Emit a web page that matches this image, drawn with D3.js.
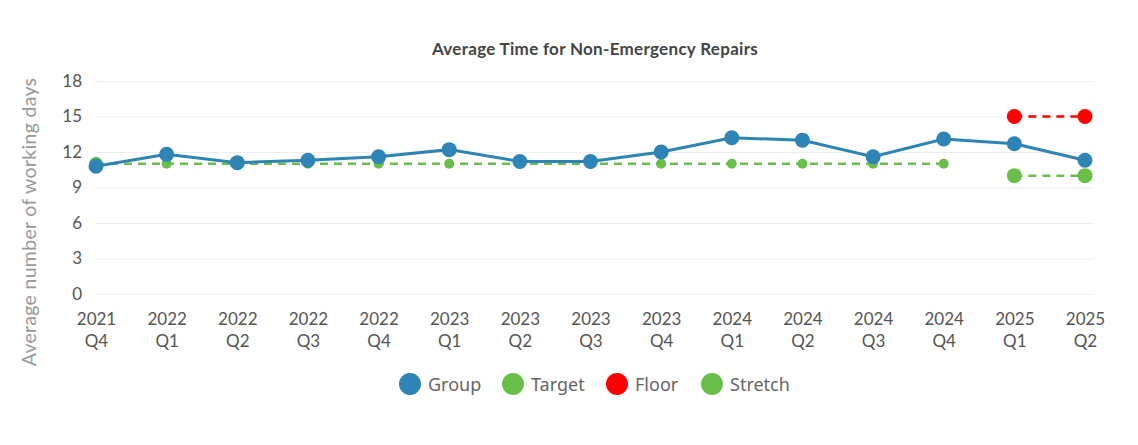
<!DOCTYPE html>
<html>
<head>
<meta charset="utf-8">
<script src="https://cdn.jsdelivr.net/npm/d3@7"></script>
<style>
  body { margin: 0; background: #fff; }
  svg { display: block; }
</style>
</head>
<body>
<svg id="chart" width="1138" height="445"></svg>
<script>
"use strict";

const W = 1138, H = 445;
const MARGIN = { top: 81, right: 44, bottom: 151, left: 96 };

const quarters = ["2021 Q4", "2022 Q1", "2022 Q2", "2022 Q3", "2022 Q4", "2023 Q1", "2023 Q2",
  "2023 Q3", "2023 Q4", "2024 Q1", "2024 Q2", "2024 Q3", "2024 Q4", "2025 Q1", "2025 Q2"];
const groupValues = [10.8, 11.8, 11.1, 11.3, 11.6, 12.2, 11.2, 11.2, 12.0, 13.2, 13.0, 11.6, 13.1, 12.7, 11.3];
const targetValues = [11, 11, 11, 11, 11, 11, 11, 11, 11, 11, 11, 11, 11, null, null];
const floorValues = [null, null, null, null, null, null, null, null, null, null, null, null, null, 15, 15];
const stretchValues = [null, null, null, null, null, null, null, null, null, null, null, null, null, 10, 10];
const yTicks = [0, 3, 6, 9, 12, 15, 18];

const COLORS = { group: "#2e84b4", target: "#6abf4b", floor: "#ff0000", stretch: "#6abf4b" };

const svg = d3.select("#chart");
const plotW = W - MARGIN.left - MARGIN.right;
const plotH = H - MARGIN.top - MARGIN.bottom;

const x = d3.scalePoint().domain(quarters).range([MARGIN.left, MARGIN.left + 989]);
const y = d3.scaleLinear().domain([0, 18]).range([MARGIN.top + plotH, MARGIN.top]);

// title
svg.append("text")
  .attr("x", MARGIN.left + plotW / 2).attr("y", 55)
  .attr("text-anchor", "middle")
  .attr("font-family", "Lato, sans-serif").attr("font-weight", "bold")
  .attr("font-size", 17).attr("letter-spacing", 0.3).attr("fill", "#444")
  .text("Average Time for Non-Emergency Repairs");

// grid + y ticks
const yAxis = d3.axisLeft(y).tickValues(yTicks).tickSize(-plotW).tickPadding(14);
svg.append("g")
  .attr("transform", `translate(${MARGIN.left},0)`)
  .call(yAxis)
  .call(g => g.select(".domain").remove())
  .call(g => g.selectAll(".tick line").attr("stroke", "#eeeeee"))
  .call(g => g.selectAll(".tick text")
    .attr("font-family", "Lato, sans-serif").attr("font-size", 17).attr("fill", "#555"));

// x axis labels, two lines
const xAxis = d3.axisBottom(x).tickSize(0).tickFormat("");
const xg = svg.append("g")
  .attr("transform", `translate(0,${MARGIN.top + plotH})`)
  .call(xAxis)
  .call(g => g.select(".domain").remove());
xg.selectAll(".tick").append("text")
  .attr("text-anchor", "middle")
  .attr("font-family", "Lato, sans-serif").attr("font-size", 17).attr("fill", "#555")
  .each(function (d) {
    const parts = d.split(" ");
    const t = d3.select(this);
    t.append("tspan").attr("x", 0).attr("y", 31).text(parts[0]);
    t.append("tspan").attr("x", 0).attr("y", 53).text(parts[1]);
  });

// y axis title
svg.append("text")
  .attr("transform", `translate(36,222) rotate(-90)`)
  .attr("text-anchor", "middle")
  .attr("font-family", "Lato, sans-serif").attr("font-size", 19.5).attr("letter-spacing", 0.3)
  .attr("fill", "#999")
  .text("Average number of working days");

function drawSeries(values, color, opts) {
  const pts = quarters.map((q, i) => ({ q, v: values[i] })).filter(d => d.v != null);
  const line = d3.line().x(d => x(d.q)).y(d => y(d.v));
  svg.append("path")
    .datum(pts)
    .attr("d", line)
    .attr("fill", "none")
    .attr("stroke", color)
    .attr("stroke-width", opts.width)
    .attr("stroke-dasharray", opts.dash || null);
  svg.append("g").selectAll("circle")
    .data(pts).join("circle")
    .attr("cx", d => x(d.q)).attr("cy", d => y(d.v))
    .attr("r", (d, i) => (opts.firstR && i === 0) ? opts.firstR : opts.r)
    .attr("fill", color);
}

drawSeries(targetValues, COLORS.target, { width: 2.5, dash: "8,6", r: 5, firstR: 7 });
drawSeries(groupValues, COLORS.group, { width: 3, r: 7.5 });
drawSeries(floorValues, COLORS.floor, { width: 2.5, dash: "8,6", r: 7.5 });
drawSeries(stretchValues, COLORS.stretch, { width: 2.5, dash: "8,6", r: 7.5 });

// legend
const legendItems = [
  { name: "Group", color: COLORS.group, cx: 410 },
  { name: "Target", color: COLORS.target, cx: 513 },
  { name: "Floor", color: COLORS.floor, cx: 617 },
  { name: "Stretch", color: COLORS.stretch, cx: 712 }
];
const lg = svg.append("g").selectAll("g").data(legendItems).join("g")
  .attr("transform", d => `translate(${d.cx},384)`);
lg.append("circle").attr("r", 11).attr("fill", d => d.color);
lg.append("text")
  .attr("x", 18).attr("y", 6.5)
  .attr("font-family", "'Noto Sans', sans-serif").attr("font-size", 18).attr("fill", "#666")
  .text(d => d.name);
</script>
</body>
</html>
